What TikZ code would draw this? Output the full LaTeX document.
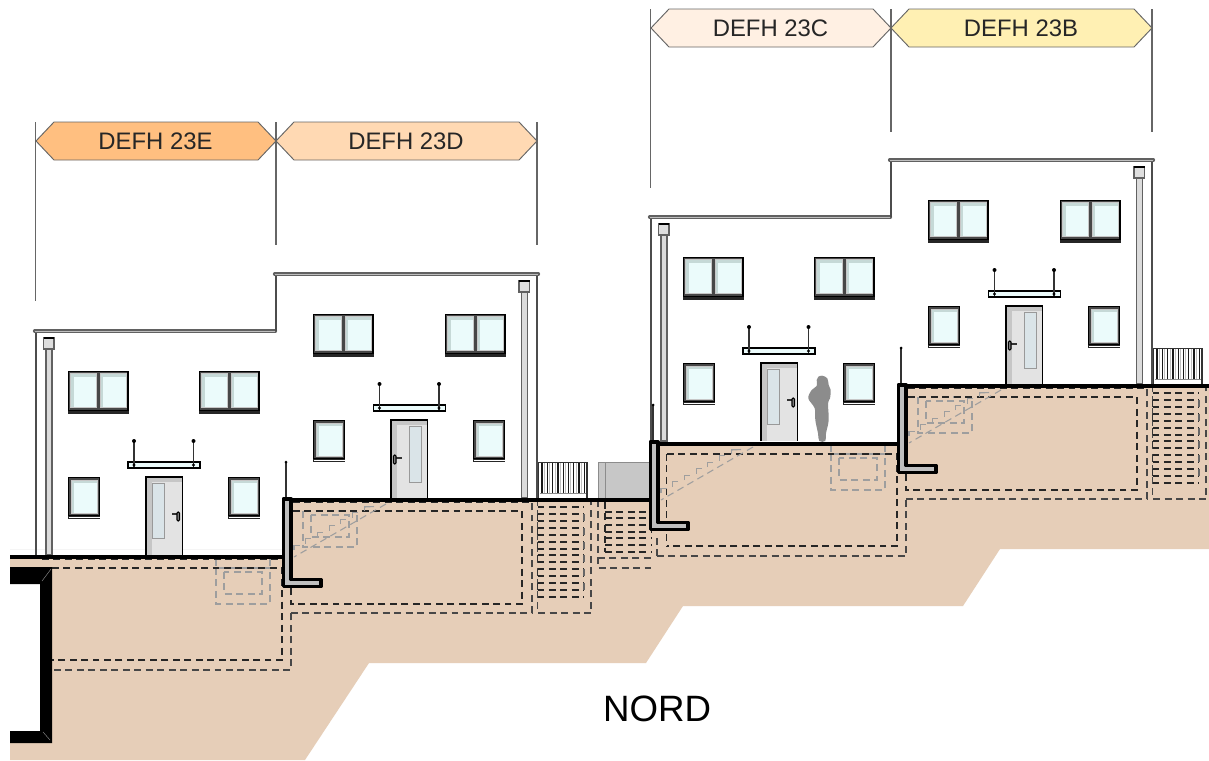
\documentclass[tikz,border=0pt]{standalone}
\usepackage{fontspec}
\setmainfont{Liberation Sans}
\definecolor{soil}{HTML}{E6CEB8}
\definecolor{glasspane}{HTML}{EBFBFB}
\definecolor{glassshade}{HTML}{C6D9D7}
\definecolor{doorface}{HTML}{E3E3E3}
\definecolor{doorshade}{HTML}{C6C6C6}
\definecolor{doorpanel}{HTML}{DAE4E8}
\definecolor{bannerE}{HTML}{FFBF80}
\definecolor{bannerD}{HTML}{FFD9B3}
\definecolor{bannerC}{HTML}{FFF0E3}
\definecolor{bannerB}{HTML}{FFF0B3}
\tikzset{
  hair/.style={draw=black!60,line width=0.8pt},
  wallline/.style={draw=black!70,line width=0.9pt},
  roofline/.style={draw=black!62,line width=2.4pt,line cap=round},
  roofcore/.style={draw=black!25,line width=0.6pt},
  groundline/.style={draw=black,line width=3pt},
  dashin/.style={draw=black!85,line width=0.78pt,dash pattern=on 5.2pt off 3.4pt},
  dashout/.style={draw=black!72,line width=0.82pt,dash pattern=on 5.2pt off 3.4pt},
  dashgray/.style={draw=black!38,line width=0.8pt,dash pattern=on 5.2pt off 3.4pt},
  retwall/.style={draw=black,fill=black!25,line width=2.7pt,line join=round},
  bannerbox/.style={draw=black!60,line width=0.7pt},
  bannertext/.style={text=black!85,font=\fontsize{17.9pt}{20pt}\selectfont,inner sep=0pt},
  rod/.style={draw=black!80,line width=1.4pt},
}
% double window
\newcommand\dwin[2]{%
  \fill[black!72] (#1,#2) rectangle (#1+60.5,#2+40);
  \draw[black,line width=1.2pt] (#1+.5,#2+.5) rectangle (#1+60,#2+40);
  \fill[black!85] (#1,#2+39.5) rectangle (#1+60.5,#2+42.5);
  \foreach \gx in {2.7,32.2}{
    \fill[glassshade] (#1+\gx,#2+2.6) rectangle (#1+\gx+25.6,#2+36.6);
    \fill[glasspane] (#1+\gx+3,#2+5.8) rectangle (#1+\gx+25.6,#2+36.6);
    \draw[black!22,line width=0.45pt] (#1+\gx,#2+2.6) rectangle (#1+\gx+25.6,#2+36.6);
  }
}
% single window
\newcommand\swin[2]{%
  \fill[black!72] (#1,#2) rectangle (#1+32,#2+39);
  \draw[black,line width=1.2pt] (#1+.5,#2+.5) rectangle (#1+31.5,#2+39);
  \fill[black!85] (#1,#2+39) rectangle (#1+32,#2+42);
  \fill[white] (#1+.5,#2+39.6) rectangle (#1+31.5,#2+40.4);
  \fill[glassshade] (#1+2.8,#2+2.8) rectangle (#1+29.2,#2+36.2);
  \fill[glasspane] (#1+5.8,#2+5.8) rectangle (#1+29.2,#2+36.2);
  \draw[black!22,line width=0.45pt] (#1+2.8,#2+2.8) rectangle (#1+29.2,#2+36.2);
}
\newcommand\doorbase[2]{%
  \fill[doorface] (#1,#2) rectangle (#1+36.5,#2+78);
  \fill[doorshade] (#1,#2) rectangle (#1+6,#2+78);
  \fill[doorshade] (#1,#2) rectangle (#1+36.5,#2+5);
}
\newcommand\doorframe[2]{%
  \draw[black,line width=1.3pt] (#1,#2+78) -- (#1,#2) -- (#1+36.5,#2) -- (#1+36.5,#2+78);
}
\newcommand\doorL[2]{% panel left, handle right
  \doorbase{#1}{#2}
  \draw[black!40,fill=doorpanel,line width=0.7pt] (#1+6.3,#2+6) rectangle (#1+18,#2+61);
  \draw[black!80,line width=1.5pt] (#1+26,#2+37) -- (#1+32,#2+37);
  \draw[black,fill=black!45,line width=0.8pt,rounded corners=0.8pt] (#1+31,#2+35) rectangle (#1+33.5,#2+44);
  \doorframe{#1}{#2}
}
\newcommand\doorR[2]{% panel right, handle left
  \doorbase{#1}{#2}
  \draw[black!40,fill=doorpanel,line width=0.7pt] (#1+18.3,#2+6) rectangle (#1+30.3,#2+62);
  \draw[black!80,line width=1.5pt] (#1+5,#2+38) -- (#1+11,#2+38);
  \draw[black,fill=black!45,line width=0.8pt,rounded corners=0.8pt] (#1+2.5,#2+35) rectangle (#1+5,#2+44);
  \doorframe{#1}{#2}
}
% canopy: left x, top y
\newcommand\canopy[2]{%
  \draw[black,fill=glasspane,line width=1.2pt] (#1,#2) rectangle (#1+72,#2+6);
  \foreach \rx in {6,65.5}{
    \draw[rod] (#1+\rx,#2-21) -- (#1+\rx,#2+5);
    \fill[black] (#1+\rx,#2-21) circle (2);
    \fill[black] (#1+\rx,#2+3) circle (1.6);
  }
}
% gutter: left x of the head, top y, bottom y
\newcommand\gutter[3]{%
  \draw[black!62,fill=black!14,line width=0.95pt] (#1+2.5,#2+12) rectangle (#1+8.5,#3);
  \draw[black!62,fill=black!13,line width=0.8pt] (#1,#2+1) rectangle (#1+10.5,#2+12);
  \draw[black,line width=1.4pt] (#1,#2+.7) -- (#1+10.5,#2+.7);
}
% trap rectangles under the ground
\newcommand\trap[2]{%
  \draw[dashgray] (#1,#2) rectangle (#1+54,#2+36);
  \draw[dashgray] (#1+8,#2+4) rectangle (#1+46,#2+26);
}
% retaining wall in the coordinates of 23D
\newcommand\retwall{%
  \draw[rod] (286,462) -- (286,497);
  \fill[black] (286,462) circle (1.5);
  \draw[retwall] (283.5,498.8) -- (291,498.8) -- (291,579.5) -- (320.7,579.5) -- (320.7,586.6) -- (283.5,586.6) -- cycle;
}
% cellar outline in the coordinates of 23E
\newcommand\cellarE[2]{%
  \draw[dashin] (#1,568) -- (282,568) -- (282,660) -- (#1,660);
  \draw[dashout] (#2,670) -- (291,670) -- (291,613);
  \draw[dashin] (42,559.5) -- (282,559.5);
}
% cellar outline and stair in the coordinates of 23D
\newcommand\cellarD{%
  \draw[dashin] (293,511) -- (522,511) -- (522,604) -- (291,604) -- (291,588);
  \draw[dashout] (291,613) -- (532,613) -- (532,503);
  \draw[dashin] (293,502.5) -- (532,502.5);
  \draw[dashout] (537.5,499) -- (537.5,613) -- (591,613) -- (591,499);
  \draw[dashin] (537.5,507) -- (584,507);
  \draw[dashin] (537.5,597) -- (584,597);
  \foreach \ty in {514,528,542,555,569,583}{
    \draw[dashin] (537.5,\ty) -- (584,\ty);
    \draw[dashin] (537.5,\ty+7) -- (584,\ty+7);
    \draw[black!80,line width=0.8pt] (537.5,\ty) -- (537.5,\ty+7);
    \draw[black!60,line width=0.8pt] (584,\ty) -- (584,\ty+7);
  }
}
% sloped stair in the coordinates of 23C
\newcommand\slopestair{%
  \draw[dashgray] (753,447) -- (661,500);
  \foreach \si in {-1,...,5}{
    \draw[black!38,line width=0.8pt] (672.7+11.7*\si,481.7-6.5*\si+5) -- (672.7+11.7*\si,481.7-6.5*\si) -- (672.7+11.7*\si+5.5,481.7-6.5*\si);
  }
  \draw[black!38,line width=0.8pt] (732,450) -- (741,449.5);
}
% terrace fence in the coordinates of 23D
\newcommand\fence{%
  \fill[white] (538,462) rectangle (588,498);
  \foreach \bi in {0,...,8}{
    \draw[black!25,line width=0.4pt] (544.2+5.3*\bi,463) -- (544.2+5.3*\bi,493);
    \draw[black!90,line width=1pt] (542+5.3*\bi,463) -- (542+5.3*\bi,493);
  }
  \draw[black!45,line width=0.7pt] (540,493.5) -- (586,493.5);
  \draw[black!80,line width=0.9pt] (538.3,462) -- (538.3,498);
  \draw[black!80,line width=0.9pt] (587,462) -- (587,498);
  \draw[black!80,line width=1.3pt] (538,462.5) -- (588,462.5);
}
% house facades
\newcommand\houseE{%
  \draw[wallline] (36,331) -- (36,555);
  \gutter{43.5}{337}{555}
  \dwin{68}{371}\dwin{199}{371}
  \swin{68}{477}\swin{228}{477}
  \canopy{128}{462}
  \doorL{146}{477}
  \draw[roofline] (34.5,331) -- (275.5,331);
  \draw[roofcore] (35,331) -- (275,331);
}
\newcommand\houseD{%
  \draw[wallline] (537,276) -- (537,498);
  \draw[wallline] (276,274) -- (276,331);
  \gutter{519}{280}{498}
  \dwin{313}{314}\dwin{445}{314}
  \swin{313}{420}\swin{473}{420}
  \canopy{373.5}{405}
  \doorR{391}{420}
  \draw[roofline] (274.5,274) -- (538.5,274);
  \draw[roofcore] (275,274) -- (538,274);
}
\newcommand\banner[6]{% name, left, right, top, fill, text
  \draw[bannerbox,fill=#5] (#2,#4+19) -- (#2+18,#4) -- (#3-18,#4) -- (#3,#4+19) -- (#3-18,#4+38) -- (#2+18,#4+38) -- cycle;
  \node[bannertext] (#1) at ({(#2+#3)/2-0.5},#4+19) {#6};
}
\begin{document}
\begin{tikzpicture}[x=0.75pt,y=-0.75pt]
\useasboundingbox (0,0) rectangle (1209,760);
\fill[white] (0,0) rectangle (1209,760);
% soil
\fill[soil] (10,557) -- (285,557) -- (285,500) -- (652,500) -- (652,443) -- (900,443) -- (900,386) -- (1209,386) -- (1209,549) -- (1000,549) -- (963,606) -- (683,606) -- (646,663) -- (369,663) -- (305,760) -- (10,760) -- cycle;
\draw[black!4,line width=0.6pt] (10,549) -- (282,549);
% extension lines
\coordinate (e1a) at (35.7,122); \coordinate (e1b) at (35.7,301);
\coordinate (e2a) at (276,122); \coordinate (e2b) at (276,245);
\coordinate (e3a) at (537,122); \coordinate (e3b) at (537,245);
\coordinate (e4a) at (650.7,9); \coordinate (e4b) at (650.7,188);
\coordinate (e5a) at (891,9); \coordinate (e5b) at (891,132);
\coordinate (e6a) at (1152,9); \coordinate (e6b) at (1152,132);
\foreach \ea/\eb in {e1a/e1b,e2a/e2b,e3a/e3b,e4a/e4b,e5a/e5b,e6a/e6b}{\draw[hair] (\ea) -- (\eb);}
% banners
\banner{labelE}{36}{276}{122}{bannerE}{DEFH 23E}
\banner{labelD}{276}{537}{122}{bannerD}{DEFH 23D}
\banner{labelC}{651}{891}{9}{bannerC}{DEFH 23C}
\banner{labelB}{891}{1152}{9}{bannerB}{DEFH 23B}
% below ground
\trap{216}{568}
\trap{303}{511}
\draw[dashgray] (216,559) -- (216,567);
\draw[dashgray] (270,559) -- (270,567);
\cellarE{52}{54}
\cellarD
\begin{scope}[shift={(-367,57)}]\slopestair\end{scope}
\begin{scope}[shift={(615,-114)}]
  \trap{216}{568}
  \draw[dashgray] (216,559) -- (216,567);
  \draw[dashgray] (270,559) -- (270,567);
  \cellarE{52}{42}
  \draw[dashin] (51.5,568) -- (51.5,660);
  \draw[dashout] (42,670) -- (42,648);
  \trap{303}{511}
  \cellarD
\end{scope}
\slopestair
\begin{scope}[shift={(248,-57)}]\slopestair\end{scope}
% middle stair under the wide box
\draw[dashout] (598,500) -- (598,568) -- (651,568);
\draw[dashout] (598,558) -- (651,558);
\draw[dashin] (605,502) -- (605,552);
\foreach \my in {512,518,525,532,538,545,552}{\draw[dashin] (605,\my) -- (651,\my);}
% gray box
\draw[black!45,fill=black!22,line width=0.7pt] (598,462) rectangle (651,500);
\draw[black!45,line width=0.7pt] (605,462) -- (605,500);
% basement wall at the left edge
\fill[white] (10,584) rectangle (40,731);
\fill[black] (10,567) -- (52,567) -- (52,743) -- (10,743) -- (10,731) -- (40,731) -- (40,584) -- (10,584) -- cycle;
\draw[black!40,line width=0.3pt] (42,581) -- (51,569);
\draw[black!40,line width=0.3pt] (43,732) -- (50,740);
% houses
\houseE
\houseD
\begin{scope}[shift={(615,-114)}]
  \houseE
  \houseD
\end{scope}
% person
\fill[black!45] plot[smooth cycle,tension=0.55] coordinates {(822.3,375.7) (827.3,378.3) (828.7,385) (830.7,390) (830,398.3) (828,403.3) (828.7,420) (826,433.3) (825.3,441) (819.3,441) (818,433.3) (815.3,420) (814.7,408.3) (808.3,398.3) (811.7,390) (816.7,386) (816.7,380) (818.3,376.7)};
% fences
\fence
\begin{scope}[shift={(615,-114)}]\fence\end{scope}
% ground lines
\draw[groundline] (10,557) -- (284,557);
\draw[groundline] (290,500) -- (652,500);
\draw[groundline] (655,444) -- (900,444);
\draw[groundline] (905,386) -- (1209,386);
% retaining walls
\retwall
\begin{scope}[shift={(367,-57)}]\retwall\end{scope}
\begin{scope}[shift={(615,-114)}]\retwall\end{scope}
\node[font=\fontsize{27.5pt}{30pt}\selectfont,text=black,inner sep=0pt] (north) at (657,709) {NORD};
\end{tikzpicture}
\end{document}
